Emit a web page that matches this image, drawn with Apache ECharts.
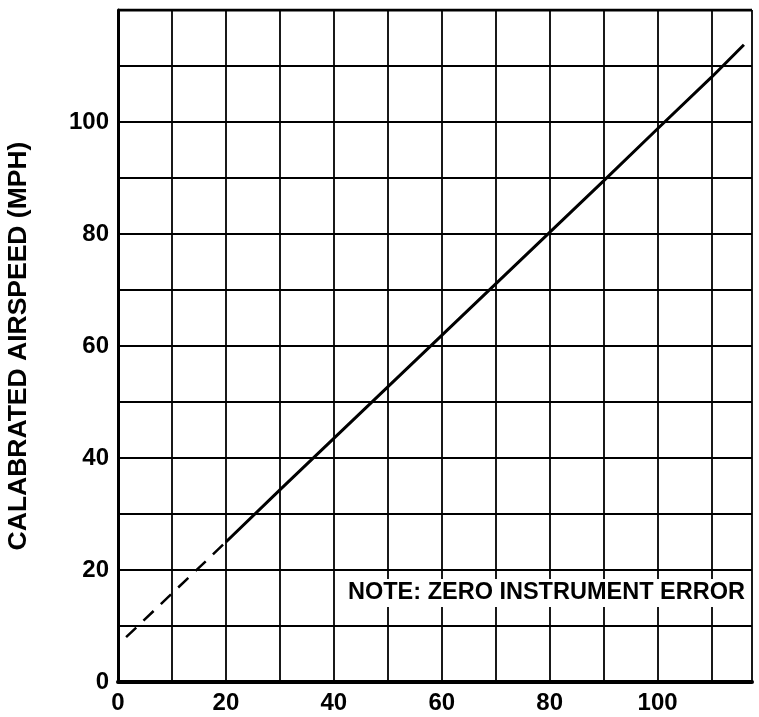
<!DOCTYPE html>
<html>
<head>
<meta charset="utf-8">
<script src="https://cdn.jsdelivr.net/npm/echarts@6/dist/echarts.min.js"></script>
<style>
  html, body { margin: 0; padding: 0; background: #fff; }
  #chart { width: 759px; height: 717px; }
</style>
</head>
<body>
<div id="chart"></div>
<script>
// Indicated airspeed (MPH) vs calibrated airspeed (MPH)
const lowRangeIAS = [1.5, 20];
const lowRangeCAS = [8, 25];
const calibIAS = [20, 30, 40, 50, 60, 70, 80, 90, 100, 110, 116];
const calibCAS = [25, 34.3, 43.5, 52.7, 61.9, 71.1, 80.3, 89.5, 98.8, 108, 113.8];
const xTickLabels = ['0', '20', '40', '60', '80', '100'];
const yTickLabels = ['0', '20', '40', '60', '80', '100'];
const yAxisTitle = 'CALABRATED AIRSPEED (MPH)';
const noteText = 'NOTE: ZERO INSTRUMENT ERROR';

const chart = echarts.init(document.getElementById('chart'));
const labelFont = { fontFamily: 'Liberation Sans', fontWeight: 'bold', fontSize: 24, color: '#000' };

chart.setOption({
  backgroundColor: '#fff',
  animation: false,
  grid: { left: 118, right: 7, top: 10, bottom: 35, show: false, containLabel: false, outerBoundsMode: 'none' },
  xAxis: {
    type: 'value', min: 0, max: 117.5, interval: 10,
    axisLine: { show: true, onZero: false, lineStyle: { color: '#000', width: 4 } },
    axisTick: { show: false },
    splitLine: { show: true, lineStyle: { color: '#000', width: 1.8 } },
    axisLabel: Object.assign({}, labelFont, {
      margin: 9,
      showMaxLabel: false,
      formatter: v => xTickLabels.includes(String(v)) ? String(v) : ''
    })
  },
  yAxis: {
    type: 'value', min: 0, max: 120, interval: 10,
    name: yAxisTitle, nameLocation: 'middle', nameGap: 86, nameRotate: 90,
    nameTextStyle: { fontFamily: 'Liberation Sans', fontWeight: 'bold', fontSize: 26.5, color: '#000' },
    axisLine: { show: true, onZero: false, lineStyle: { color: '#000', width: 3 } },
    axisTick: { show: false },
    splitLine: { show: true, lineStyle: { color: '#000', width: 1.8 } },
    axisLabel: Object.assign({}, labelFont, {
      margin: 9,
      showMaxLabel: false,
      formatter: v => yTickLabels.includes(String(v)) ? String(v) : ''
    })
  },
  series: [
    {
      type: 'line', symbol: 'none', z: 5,
      data: lowRangeIAS.map((x, i) => [x, lowRangeCAS[i]]),
      lineStyle: { color: '#000', width: 2.5, type: [14, 10] }
    },
    {
      type: 'line', symbol: 'none', z: 5,
      data: calibIAS.map((x, i) => [x, calibCAS[i]]),
      lineStyle: { color: '#000', width: 3 }
    },
    {
      // top border of the plot
      type: 'line', symbol: 'none', z: 4, silent: true,
      data: [[0, 120], [117.5, 120]],
      lineStyle: { color: '#000', width: 3 }
    }
  ],
  graphic: [
    {
      type: 'text', z: 10,
      left: 346, top: 579,
      style: {
        text: noteText,
        fontFamily: 'Liberation Sans', fontWeight: 'bold', fontSize: 23.5,
        fill: '#000', backgroundColor: '#fff', padding: [2, 2, 2, 2]
      }
    }
  ]
});
</script>
</body>
</html>
